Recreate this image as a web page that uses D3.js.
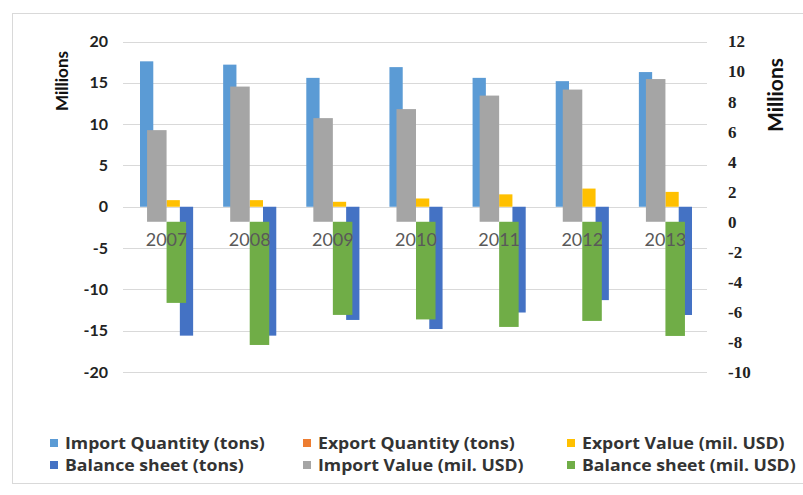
<!DOCTYPE html>
<html><head><meta charset="utf-8">
<script src="https://cdn.jsdelivr.net/npm/d3@7"></script>
<style>body{margin:0;background:#fff}</style>
</head><body><svg id="c" width="803" height="495"></svg>
<script>
const years = ["2007","2008","2009","2010","2011","2012","2013"];
const importQty   = [17.6, 17.2, 15.6, 16.9, 15.6, 15.2, 16.3];
const exportQty   = [0.03, 0.03, 0.02, 0.03, 0.04, 0.05, 0.04];
const exportValue = [0.8, 0.8, 0.6, 1.0, 1.5, 2.2, 1.8];
const balanceTons = [-15.6, -15.6, -13.7, -14.8, -12.8, -11.3, -13.1];
const importValue = [6.1, 9.0, 6.9, 7.5, 8.4, 8.8, 9.5];
const balanceUsd  = [-5.4, -8.2, -6.2, -6.5, -7.0, -6.6, -7.6];
const leftTicks  = [-20,-15,-10,-5,0,5,10,15,20];
const rightTicks = [-10,-8,-6,-4,-2,0,2,4,6,8,10,12];
const seriesNames = ["Import Quantity (tons)","Export Quantity (tons)","Export Value (mil. USD)","Balance sheet (tons)","Import Value (mil. USD)","Balance sheet (mil. USD)"];

const colors = ["#5B9BD5","#ED7D31","#FFC000","#4472C4","#A5A5A5","#70AD47"];
const primary = [
  {name:seriesNames[0], values:importQty, color:colors[0]},
  {name:seriesNames[1], values:exportQty, color:colors[1]},
  {name:seriesNames[2], values:exportValue, color:colors[2]},
  {name:seriesNames[3], values:balanceTons, color:colors[3]}
];
const secondary = [
  {name:seriesNames[4], values:importValue, color:colors[4]},
  {name:seriesNames[5], values:balanceUsd, color:colors[5]}
];

const sans = "Lato, 'Open Sans', sans-serif";
const svg = d3.select("#c");
svg.append("rect").attr("x",12.5).attr("y",13.5).attr("width",800).attr("height",470)
  .attr("fill","#fff").attr("stroke","#d9d9d9");

const plotTop = 41.5, plotBottom = 372;
const yL = d3.scaleLinear().domain([-20,20]).range([plotBottom, plotTop]);
const yR = d3.scaleLinear().domain([-10,12]).range([plotBottom, plotTop]);
const x = d3.scaleBand().domain(years).range([125,707]).padding(0);
const bw = x.bandwidth();
const xP = d3.scaleBand().domain(d3.range(primary.length)).range([0,bw]).paddingInner(0).paddingOuter(1.13);
const xS = d3.scaleBand().domain(d3.range(secondary.length)).range([0,bw]).paddingInner(0).paddingOuter(1.13);

// gridlines
svg.append("g").selectAll("line").data(leftTicks).join("line")
  .attr("x1",123).attr("x2",707)
  .attr("y1",d=>Math.round(yL(d))+0.5).attr("y2",d=>Math.round(yL(d))+0.5)
  .attr("stroke","#d9d9d9").attr("stroke-width",1);

// left axis
const gl = svg.append("g").attr("transform","translate(108,0)")
  .call(d3.axisLeft(yL).tickValues(leftTicks).tickFormat(d=>String(d)).tickSize(0).tickPadding(0));
gl.select(".domain").remove();
gl.selectAll("text").attr("font-family",sans).attr("font-weight","bold")
  .attr("font-size","16px").attr("fill","#222");

// right axis
const gr = svg.append("g").attr("transform","translate(728,0)")
  .call(d3.axisRight(yR).tickValues(rightTicks).tickFormat(d=>String(d)).tickSize(0).tickPadding(0));
gr.select(".domain").remove();
gr.selectAll("text").attr("font-family","'Liberation Serif', 'Times New Roman', serif").attr("font-weight","bold")
  .attr("font-size","17px").attr("fill","#222");

// axis titles
svg.append("text").attr("transform","translate(68,81) rotate(-90)").attr("text-anchor","middle")
  .attr("font-family",sans).attr("font-weight","bold").attr("font-size","17px")
  .attr("fill","#111").text("Millions");
svg.append("text").attr("transform","translate(783,95) rotate(-90)").attr("text-anchor","middle")
  .attr("font-family",sans).attr("font-weight","bold").attr("font-size","21px")
  .attr("fill","#111").text("Millions");

// primary bars
primary.forEach((s,i)=>{
  svg.append("g").selectAll("rect").data(years).join("rect")
    .attr("x",(d)=>x(d)+xP(i)).attr("width",xP.bandwidth())
    .attr("y",(d,j)=>Math.min(yL(s.values[j]),yL(0)))
    .attr("height",(d,j)=>Math.abs(yL(s.values[j])-yL(0)))
    .attr("fill",s.color);
});
// secondary bars
secondary.forEach((s,i)=>{
  svg.append("g").selectAll("rect").data(years).join("rect")
    .attr("x",(d)=>x(d)+xS(i)).attr("width",xS.bandwidth())
    .attr("y",(d,j)=>Math.min(yR(s.values[j]),yR(0)))
    .attr("height",(d,j)=>Math.abs(yR(s.values[j])-yR(0)))
    .attr("fill",s.color);
});

// category labels (drawn over bars, as in the reference)
svg.append("g").selectAll("text").data(years).join("text")
  .attr("x",d=>x(d)+bw/2).attr("y",246).attr("text-anchor","middle")
  .attr("font-family",sans).attr("font-size","18px").attr("fill","#595959")
  .text(d=>d);

// legend
const legX = [50, 303, 567], legY = [443, 465];
const lg = svg.append("g");
const legTexts = [];
seriesNames.forEach((n,i)=>{
  const cx = legX[i%3], cy = legY[Math.floor(i/3)];
  lg.append("rect").attr("x",cx).attr("y",cy-4).attr("width",8).attr("height",8).attr("fill",colors[i]);
  const t = lg.append("text").attr("x",0).attr("y",0)
    .attr("font-family","'Open Sans', sans-serif").attr("font-weight","bold").attr("font-size","16px")
    .attr("fill","#333").text(n);
  legTexts.push({t, tx:cx+15, ty:cy+5.5});
});
const w0 = legTexts[0].t.node().getComputedTextLength();
const sx = 200 / w0;
legTexts.forEach(o=>o.t.attr("transform",`translate(${o.tx},${o.ty}) scale(${sx},1)`));
</script>
</body></html>
